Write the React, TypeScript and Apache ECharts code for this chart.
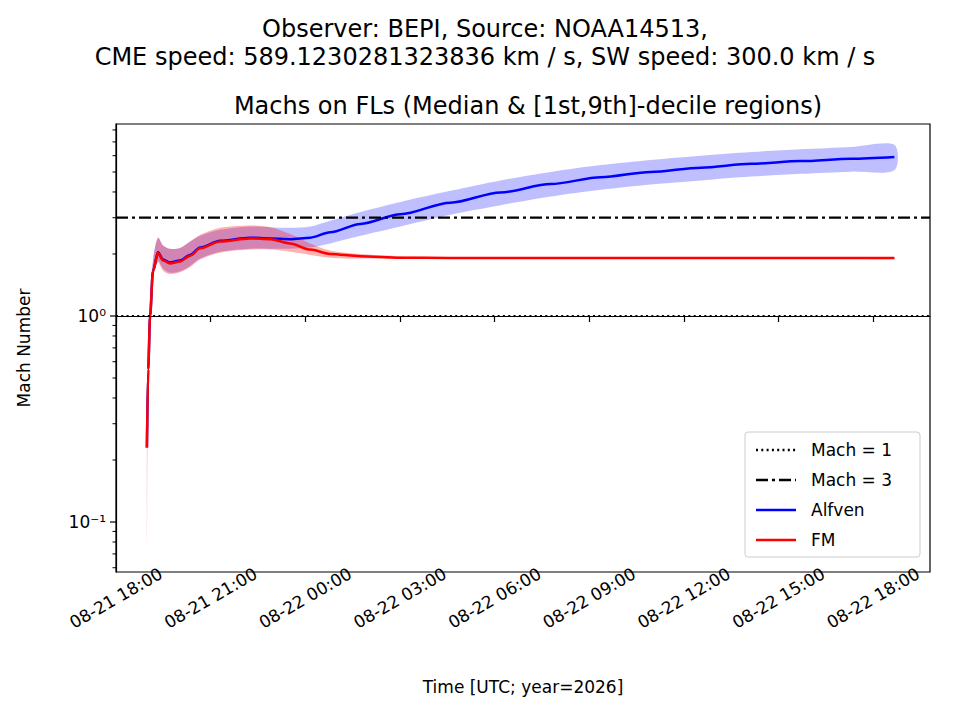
import React, { useEffect, useRef } from "react";
import * as echarts from "echarts";

// hours since 08-21 00:00 UTC
const hours = [18.98, 19.02, 19.08, 19.17, 19.33, 19.49, 19.71, 20.03, 20.35, 20.67, 21.3, 22.25, 22.89, 23.52, 24.16, 24.79, 25.75, 27.02, 28.6, 30.19, 31.78, 33.37, 34.95, 36.54, 38.13, 39.71, 41.3, 42.67];

const alfMed = [0.23, 0.55, 1.0, 1.65, 2.04, 1.88, 1.82, 1.86, 1.98, 2.15, 2.32, 2.4, 2.38, 2.36, 2.4, 2.55, 2.8, 3.12, 3.55, 3.98, 4.37, 4.72, 5.0, 5.25, 5.48, 5.65, 5.8, 5.92];
const alfLow = [0.22, 0.5, 0.9, 1.5, 1.85, 1.7, 1.62, 1.65, 1.75, 1.9, 2.05, 2.12, 2.12, 2.12, 2.15, 2.25, 2.45, 2.72, 3.1, 3.45, 3.8, 4.1, 4.35, 4.55, 4.75, 4.9, 5.02, 5.1];
const alfHigh = [0.25, 0.6, 1.1, 1.85, 2.4, 2.2, 2.12, 2.14, 2.3, 2.45, 2.62, 2.72, 2.7, 2.68, 2.72, 2.9, 3.2, 3.58, 4.05, 4.55, 5.0, 5.4, 5.72, 6.0, 6.25, 6.45, 6.62, 6.78];

const fmMed = [0.23, 0.55, 1.0, 1.65, 2.02, 1.86, 1.8, 1.84, 1.96, 2.13, 2.3, 2.38, 2.36, 2.25, 2.1, 2.0, 1.95, 1.92, 1.91, 1.91, 1.91, 1.91, 1.91, 1.91, 1.91, 1.91, 1.91, 1.91];
const fmLow = [0.08, 0.5, 0.9, 1.5, 1.82, 1.66, 1.6, 1.63, 1.73, 1.88, 2.03, 2.1, 2.1, 2.05, 1.98, 1.92, 1.9, 1.89, 1.89, 1.89, 1.89, 1.89, 1.89, 1.89, 1.89, 1.89, 1.89, 1.89];
const fmHigh = [0.25, 0.6, 1.1, 1.85, 2.4, 2.2, 2.12, 2.14, 2.3, 2.48, 2.68, 2.75, 2.7, 2.5, 2.25, 2.08, 2.0, 1.95, 1.93, 1.93, 1.93, 1.93, 1.93, 1.93, 1.93, 1.93, 1.93, 1.93];

const xMin = 18;
const xMax = 43.8;
const yMin = Math.log10(0.0572);
const yMax = Math.log10(8.55);

const L = Math.log10;
const FONT = "DejaVu Sans";

// filled band between low and high, drawn as one polygon through the axes
const band = (low: number[], high: number[], color: string) => ({
  type: "custom", silent: true, z: 2,
  data: [0],
  renderItem: (params: any, api: any) => {
    const top = hours.map((h, i) => api.coord([h, L(high[i])]));
    const bottom = hours.map((h, i) => api.coord([h, L(low[i])])).reverse();
    return {
      type: "polygon",
      shape: { points: top.concat(bottom), smooth: 0.3 },
      style: { fill: color, stroke: "none" },
    };
  },
});

const App = () => {
  const chartRef = useRef<HTMLDivElement>(null);

  useEffect(() => {
    const chart = echarts.init(chartRef.current, null, { renderer: "svg" });

    // log-scale ticks for the y axis
    const yTicks: number[][] = [];
    for (let n = -2; n <= 0; n++) {
      for (let k = 1; k <= 9; k++) {
        const v = L(k * Math.pow(10, n));
        if (v >= yMin && v <= yMax) yTicks.push([v, k === 1 ? 1 : 0, n]);
      }
    }

    const sup: Record<string, string> = { "-": "⁻", "0": "⁰", "1": "¹", "2": "²" };

    const legendItems = [
      { label: "Mach = 1", color: "#000", type: [2, 3.3] },
      { label: "Mach = 3", color: "#000", type: [12, 4, 3, 4] },
      { label: "Alfven", color: "#0000ff", type: "solid" },
      { label: "FM", color: "#ff0000", type: "solid" },
    ];

    const option = {
      animation: false,
      backgroundColor: "#fff",
      textStyle: { fontFamily: FONT },
      title: [
        {
          text: "Observer: BEPI, Source: NOAA14513,\nCME speed: 589.1230281323836 km / s, SW speed: 300.0 km / s",
          left: 480, top: 10, textAlign: "center",
          textStyle: { fontFamily: FONT, fontSize: 24, fontWeight: "normal", color: "#000", lineHeight: 28 },
        },
        {
          text: "Machs on FLs (Median & [1st,9th]-decile regions)",
          left: 523, top: 89, textAlign: "center",
          textStyle: { fontFamily: FONT, fontSize: 24, fontWeight: "normal", color: "#000" },
        },
      ],
      grid: { left: 116, right: 30, top: 124, bottom: 148, show: true, borderColor: "#000", borderWidth: 1.2 },
      xAxis: {
        type: "value", min: xMin, max: xMax, interval: 3,
        name: "Time [UTC; year=2026]", nameLocation: "middle", nameGap: 106,
        nameTextStyle: { fontFamily: FONT, fontSize: 17, color: "#000" },
        axisLine: { lineStyle: { color: "#000", width: 1.2 } },
        axisTick: { lineStyle: { color: "#000", width: 1.2 }, length: 6 },
        splitLine: { show: false },
        axisLabel: {
          rotate: 30, fontFamily: FONT, fontSize: 17, color: "#000", margin: 26,
          align: "center", verticalAlign: "middle",
          showMaxLabel: false,
          formatter: (v: number) => {
            const day = 21 + Math.floor(v / 24);
            const hh = String(Math.round(v % 24)).padStart(2, "0");
            return `08-${day} ${hh}:00`;
          },
        },
      },
      yAxis: {
        type: "value", min: yMin, max: yMax,
        name: "Mach Number", nameLocation: "middle", nameGap: 84,
        nameTextStyle: { fontFamily: FONT, fontSize: 17, color: "#000" },
        axisLine: { show: true, lineStyle: { color: "#000", width: 1.2 } },
        axisTick: { show: false }, axisLabel: { show: false }, splitLine: { show: false },
      },
      graphic: [
        {
          type: "rect", shape: { x: 745, y: 432, width: 175, height: 125, r: 3 },
          style: { fill: "rgba(255,255,255,0.85)", stroke: "#ccc", lineWidth: 1 }, z: 100,
        },
        ...legendItems.flatMap((it, i) => [
          {
            type: "line", z: 101,
            shape: { x1: 756, y1: 450 + i * 30, x2: 796, y2: 450 + i * 30 },
            style: { stroke: it.color, lineWidth: 2.5, lineDash: it.type === "solid" ? null : it.type },
          },
          {
            type: "text", z: 101, x: 811, y: 450 + i * 30,
            style: { text: it.label, font: `17px ${FONT}`, fill: "#000", textVerticalAlign: "middle" },
          },
        ]),
      ],
      series: [
        band(alfLow, alfHigh, "rgba(0,0,255,0.25)"),
        band(fmLow, fmHigh, "rgba(255,0,0,0.3)"),
        {
          type: "line", symbol: "none", smooth: 0.3, smoothMonotone: "x",
          data: hours.map((h, i) => [h, L(alfMed[i])]),
          lineStyle: { color: "#0000ff", width: 2.5 }, z: 5,
        },
        {
          type: "line", symbol: "none", smooth: 0.3, smoothMonotone: "x",
          data: hours.map((h, i) => [h, L(fmMed[i])]),
          lineStyle: { color: "#ff0000", width: 2.5 }, z: 6,
        },
        {
          type: "line", symbol: "none", data: [[xMin, 0], [xMax, 0]],
          lineStyle: { color: "#000", width: 2, type: [2, 3.3] }, z: 7,
        },
        {
          type: "line", symbol: "none", data: [[xMin, L(3)], [xMax, L(3)]],
          lineStyle: { color: "#000", width: 2.2, type: [12, 4, 3, 4] }, z: 7,
        },
        {
          type: "custom", clip: false, silent: true, data: yTicks,
          renderItem: (params: any, api: any) => {
            const p = api.coord([xMin, api.value(0)]);
            const major = api.value(1) === 1;
            const children: any[] = [
              {
                type: "line",
                shape: { x1: p[0] - (major ? 6 : 3.5), y1: p[1], x2: p[0], y2: p[1] },
                style: { stroke: "#000", lineWidth: major ? 1.2 : 1 },
              },
            ];
            if (major) {
              const n = String(api.value(2));
              children.push({
                type: "text", x: p[0] - 10, y: p[1],
                style: {
                  text: "10" + n.split("").map((c) => sup[c]).join(""),
                  font: `17px ${FONT}`, fill: "#000", textAlign: "right", textVerticalAlign: "middle",
                },
              });
            }
            return { type: "group", children };
          },
        },
      ],
    };

    chart.setOption(option as any);
    return () => chart.dispose();
  }, []);

  return <div ref={chartRef} style={{ width: 960, height: 720, margin: -8 }} />;
};

export default App;
